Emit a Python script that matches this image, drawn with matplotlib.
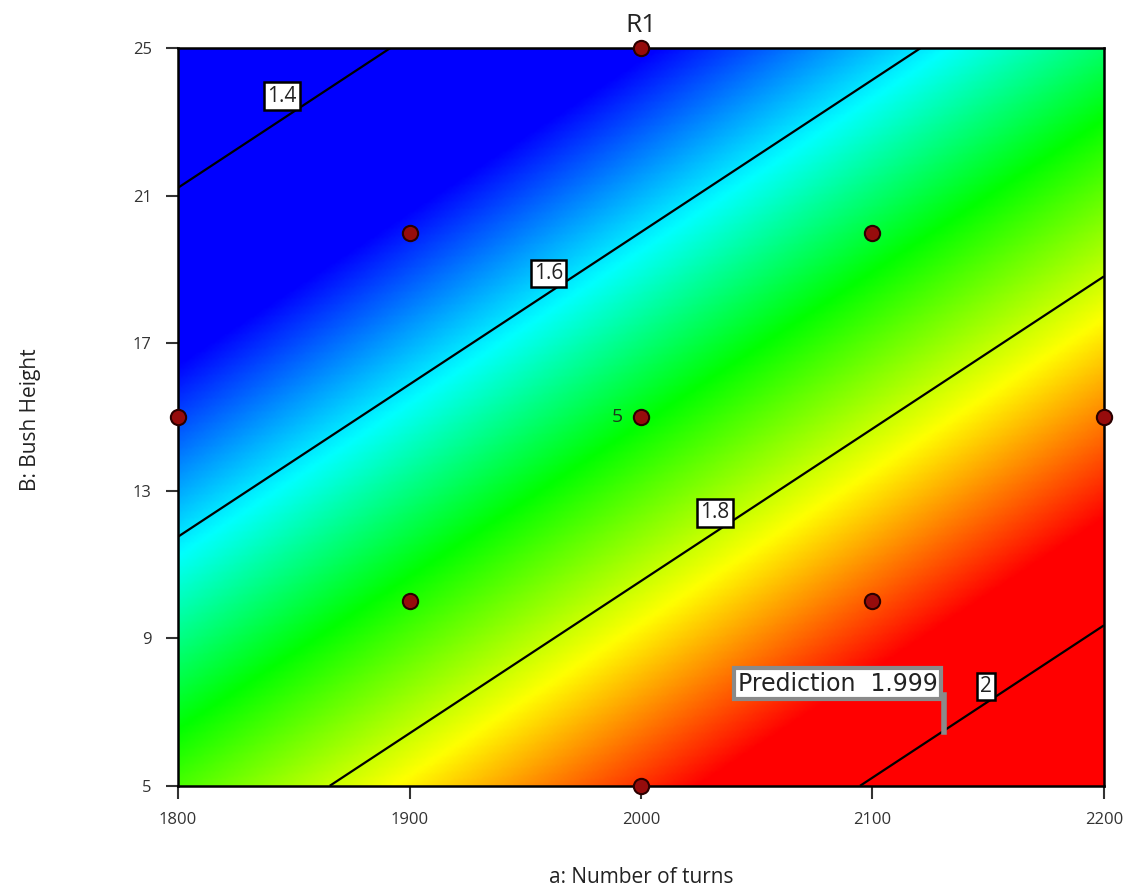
import numpy as np
import matplotlib
matplotlib.use("Agg")
import matplotlib.pyplot as plt
from matplotlib.colors import LinearSegmentedColormap

plt.rcParams['font.family'] = ['Open Sans', 'DejaVu Sans']

# fitted linear model for R1 in coded units (A, B in -1..1)
b0 = 1.706
bA = 0.1746
bB = -0.2114

x_range = [1800, 2200]
y_range = [5, 25]
contour_levels = [1.4, 1.6, 1.8, 2.0]
contour_texts = ['1.4', '1.6', '1.8', '2']
# where each contour label sits (data coords)
label_x = [1845, 1960, 2032, 2149]
label_y = [23.7, 18.9, 12.4, 7.7]

# design points
design_x = [2000, 1900, 2100, 1800, 2000, 2200, 1900, 2100, 2000]
design_y = [25, 20, 20, 15, 15, 15, 10, 10, 5]
center_reps = 5

# prediction flag
pred_x = 2132
pred_y = 6.45
pred_value = 1.999

# Design-Expert like colour ramp
vmin, vmax = 1.50, 1.94
nodes = [1.50, 1.61, 1.71, 1.825, 1.94]
node_colors = ['#0000ff', '#00ffff', '#00ff00', '#ffff00', '#ff0000']
cmap = LinearSegmentedColormap.from_list(
    'de', [((v - vmin) / (vmax - vmin), c) for v, c in zip(nodes, node_colors)])


def model(x, y):
    A = (x - 2000) / 200.0
    B = (y - 15) / 10.0
    return b0 + bA * A + bB * B


xs = np.linspace(x_range[0], x_range[1], 400)
ys = np.linspace(y_range[0], y_range[1], 400)
X, Y = np.meshgrid(xs, ys)
Z = model(X, Y)

fig = plt.figure(figsize=(11.34, 8.92), dpi=100)
ax = fig.add_axes([0.157, 0.119, 0.8165, 0.827])

ax.imshow(Z, origin='lower', extent=[x_range[0], x_range[1], y_range[0], y_range[1]],
          aspect='auto', cmap=cmap, vmin=vmin, vmax=vmax, interpolation='bilinear')
ax.contour(X, Y, Z, levels=contour_levels, colors='black', linewidths=1.6)

for lx, ly, t in zip(label_x, label_y, contour_texts):
    ax.text(lx, ly, t, ha='center', va='center', fontsize=15, color='#222222',
            bbox=dict(boxstyle='square,pad=0.15', fc='white', ec='black', lw=1.8))

ax.plot(design_x, design_y, 'o', ms=11, mfc='#960c0c', mec='#2a0000', mew=1.5,
        clip_on=False, zorder=5)
ax.text(1992, 15, str(center_reps), ha='right', va='center', fontsize=14, color='#1c3a1c')

# prediction flag
ax.plot([pred_x - 1, pred_x - 1], [pred_y + 1.0, pred_y], color='#8a8a8a', lw=4, zorder=6)
ax.text(pred_x - 4, pred_y + 1.32, 'Prediction  %.3f' % pred_value, ha='right', va='center',
        fontsize=17, color='#222222', zorder=7, family='DejaVu Sans',
        bbox=dict(boxstyle='square,pad=0.15', fc='white', ec='#8a8a8a', lw=3))

ax.set_xlim(x_range)
ax.set_ylim(y_range)
ax.set_xticks([1800, 1900, 2000, 2100, 2200])
ax.set_yticks([5, 9, 13, 17, 21, 25])
ax.tick_params(direction='out', length=9, width=1.5, labelsize=12, colors='#333333', pad=10)
for s in ax.spines.values():
    s.set_linewidth(1.8)
    s.set_color('black')

ax.set_title('R1', fontsize=19, color='#222222', pad=12)
fig.text(0.5 * (0.157 + 0.9735), 0.004, 'a: Number of turns', ha='center', va='bottom',
         fontsize=15, color='#222222')
fig.text(0.027, 0.53, 'B: Bush Height', rotation=90, ha='center', va='center',
         fontsize=15, color='#222222')

plt.savefig('out.png', dpi=100)
